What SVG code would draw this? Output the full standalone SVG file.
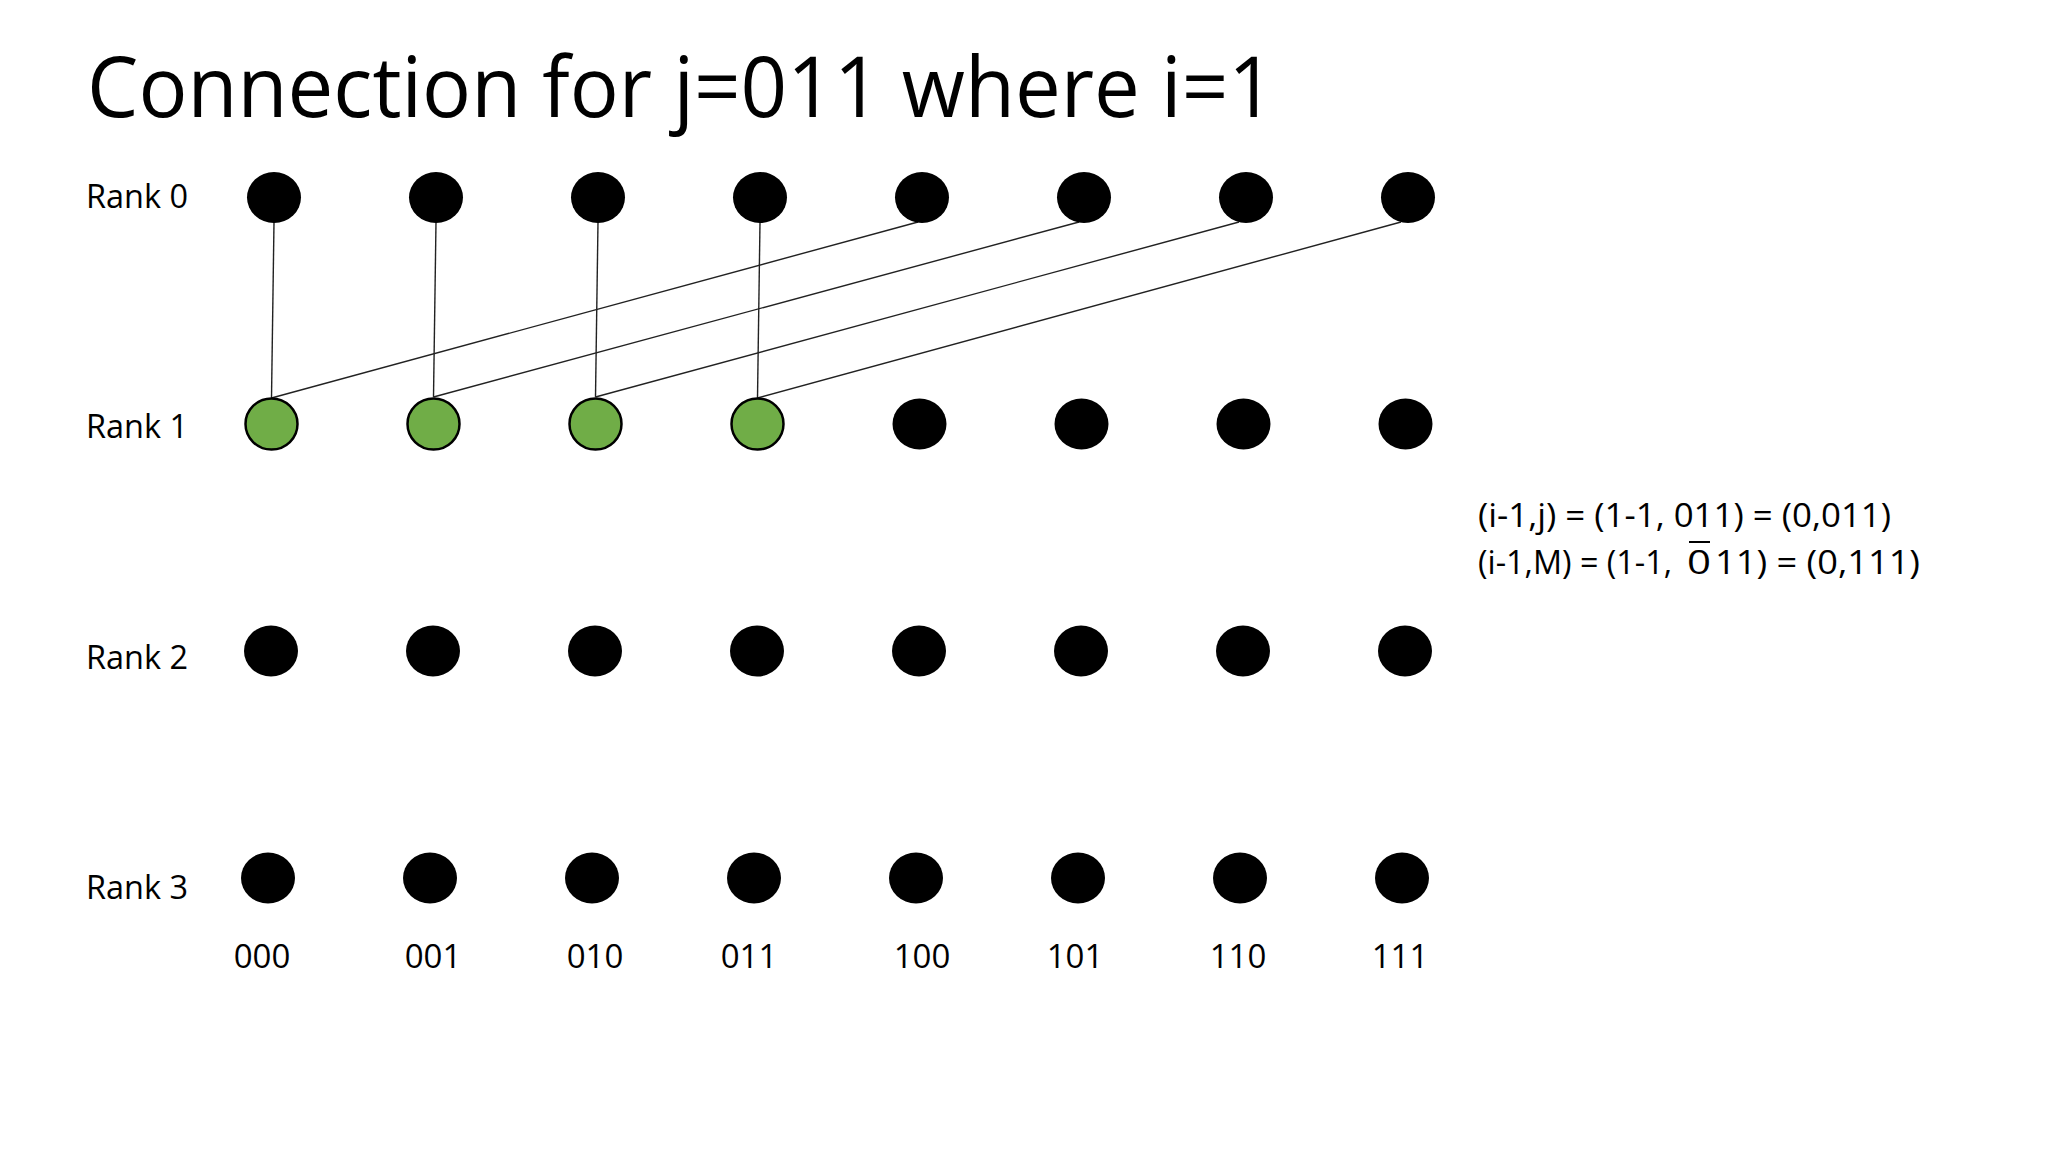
<svg xmlns="http://www.w3.org/2000/svg" width="2048" height="1152" viewBox="0 0 2048 1152">
<style>
.t{font-family:"Open Sans","Liberation Sans",sans-serif;fill:#000}
.lbl{font-size:33px}
.eq{font-size:32px}
.title{font-size:84px}
.n{fill:#000}
.g{fill:#70AD47;stroke:#000;stroke-width:2.5}
.c{stroke:#222;stroke-width:1.4;fill:none}
</style>
<rect width="2048" height="1152" fill="#fff"/>
<text class="t title" x="87" y="117" textLength="1188" lengthAdjust="spacingAndGlyphs">Connection for j=011 where i=1</text>
<g id="rank-labels">
<text class="t lbl" x="86" y="208" textLength="102" lengthAdjust="spacingAndGlyphs">Rank 0</text>
<text class="t lbl" x="86" y="438" textLength="102" lengthAdjust="spacingAndGlyphs">Rank 1</text>
<text class="t lbl" x="86" y="669" textLength="102" lengthAdjust="spacingAndGlyphs">Rank 2</text>
<text class="t lbl" x="86" y="899" textLength="102" lengthAdjust="spacingAndGlyphs">Rank 3</text>
</g>
<g id="connectors">
<line class="c" x1="274" y1="222" x2="271.5" y2="398"/>
<line class="c" x1="436" y1="222" x2="433.5" y2="397"/>
<line class="c" x1="598" y1="222" x2="595.5" y2="397"/>
<line class="c" x1="760" y1="222" x2="757.5" y2="398"/>
<line class="c" x1="918" y1="222" x2="271.5" y2="398"/>
<line class="c" x1="1079" y1="222" x2="433.5" y2="397"/>
<line class="c" x1="1239" y1="222" x2="595.5" y2="397"/>
<line class="c" x1="1401" y1="222" x2="757.5" y2="398"/>
</g>
<g id="rank0">
<ellipse id="r0-000" class="n" cx="274" cy="197.5" rx="27" ry="25.5"/>
<ellipse id="r0-001" class="n" cx="436" cy="197.5" rx="27" ry="25.5"/>
<ellipse id="r0-010" class="n" cx="598" cy="197.5" rx="27" ry="25.5"/>
<ellipse id="r0-011" class="n" cx="760" cy="197.5" rx="27" ry="25.5"/>
<ellipse id="r0-100" class="n" cx="922" cy="197.5" rx="27" ry="25.5"/>
<ellipse id="r0-101" class="n" cx="1084" cy="197.5" rx="27" ry="25.5"/>
<ellipse id="r0-110" class="n" cx="1246" cy="197.5" rx="27" ry="25.5"/>
<ellipse id="r0-111" class="n" cx="1408" cy="197.5" rx="27" ry="25.5"/>
</g>
<g id="rank1">
<ellipse id="r1-000" class="g" cx="271.5" cy="424" rx="26" ry="25.5"/>
<ellipse id="r1-001" class="g" cx="433.5" cy="424" rx="26" ry="25.5"/>
<ellipse id="r1-010" class="g" cx="595.5" cy="424" rx="26" ry="25.5"/>
<ellipse id="r1-011" class="g" cx="757.5" cy="424" rx="26" ry="25.5"/>
<ellipse id="r1-100" class="n" cx="919.5" cy="424" rx="27" ry="25.5"/>
<ellipse id="r1-101" class="n" cx="1081.5" cy="424" rx="27" ry="25.5"/>
<ellipse id="r1-110" class="n" cx="1243.5" cy="424" rx="27" ry="25.5"/>
<ellipse id="r1-111" class="n" cx="1405.5" cy="424" rx="27" ry="25.5"/>
</g>
<g id="rank2">
<ellipse id="r2-000" class="n" cx="271" cy="651" rx="27" ry="25.5"/>
<ellipse id="r2-001" class="n" cx="433" cy="651" rx="27" ry="25.5"/>
<ellipse id="r2-010" class="n" cx="595" cy="651" rx="27" ry="25.5"/>
<ellipse id="r2-011" class="n" cx="757" cy="651" rx="27" ry="25.5"/>
<ellipse id="r2-100" class="n" cx="919" cy="651" rx="27" ry="25.5"/>
<ellipse id="r2-101" class="n" cx="1081" cy="651" rx="27" ry="25.5"/>
<ellipse id="r2-110" class="n" cx="1243" cy="651" rx="27" ry="25.5"/>
<ellipse id="r2-111" class="n" cx="1405" cy="651" rx="27" ry="25.5"/>
</g>
<g id="rank3">
<ellipse id="r3-000" class="n" cx="268" cy="878" rx="27" ry="25.5"/>
<ellipse id="r3-001" class="n" cx="430" cy="878" rx="27" ry="25.5"/>
<ellipse id="r3-010" class="n" cx="592" cy="878" rx="27" ry="25.5"/>
<ellipse id="r3-011" class="n" cx="754" cy="878" rx="27" ry="25.5"/>
<ellipse id="r3-100" class="n" cx="916" cy="878" rx="27" ry="25.5"/>
<ellipse id="r3-101" class="n" cx="1078" cy="878" rx="27" ry="25.5"/>
<ellipse id="r3-110" class="n" cx="1240" cy="878" rx="27" ry="25.5"/>
<ellipse id="r3-111" class="n" cx="1402" cy="878" rx="27" ry="25.5"/>
</g>
<g id="column-labels" text-anchor="middle">
<text class="t lbl" x="262" y="968">000</text>
<text class="t lbl" x="433" y="968">001</text>
<text class="t lbl" x="595" y="968">010</text>
<text class="t lbl" x="749" y="968">011</text>
<text class="t lbl" x="922" y="968">100</text>
<text class="t lbl" x="1075" y="968">101</text>
<text class="t lbl" x="1238" y="968">110</text>
<text class="t lbl" x="1400" y="968">111</text>
</g>
<g id="equations">
<text class="t eq" x="1478" y="527" textLength="413" lengthAdjust="spacingAndGlyphs">(i-1,j) = (1-1, 011) = (0,011)</text>
<text class="t eq" x="1478" y="574" textLength="194" lengthAdjust="spacingAndGlyphs">(i-1,M) = (1-1,</text>
<text class="t eq" x="1687" y="574" textLength="24" lengthAdjust="spacingAndGlyphs">0</text>
<line x1="1689" y1="542" x2="1710" y2="542" stroke="#000" stroke-width="2"/>
<text class="t eq" x="1715" y="574" textLength="205" lengthAdjust="spacingAndGlyphs">11) = (0,111)</text>
</g>
</svg>
